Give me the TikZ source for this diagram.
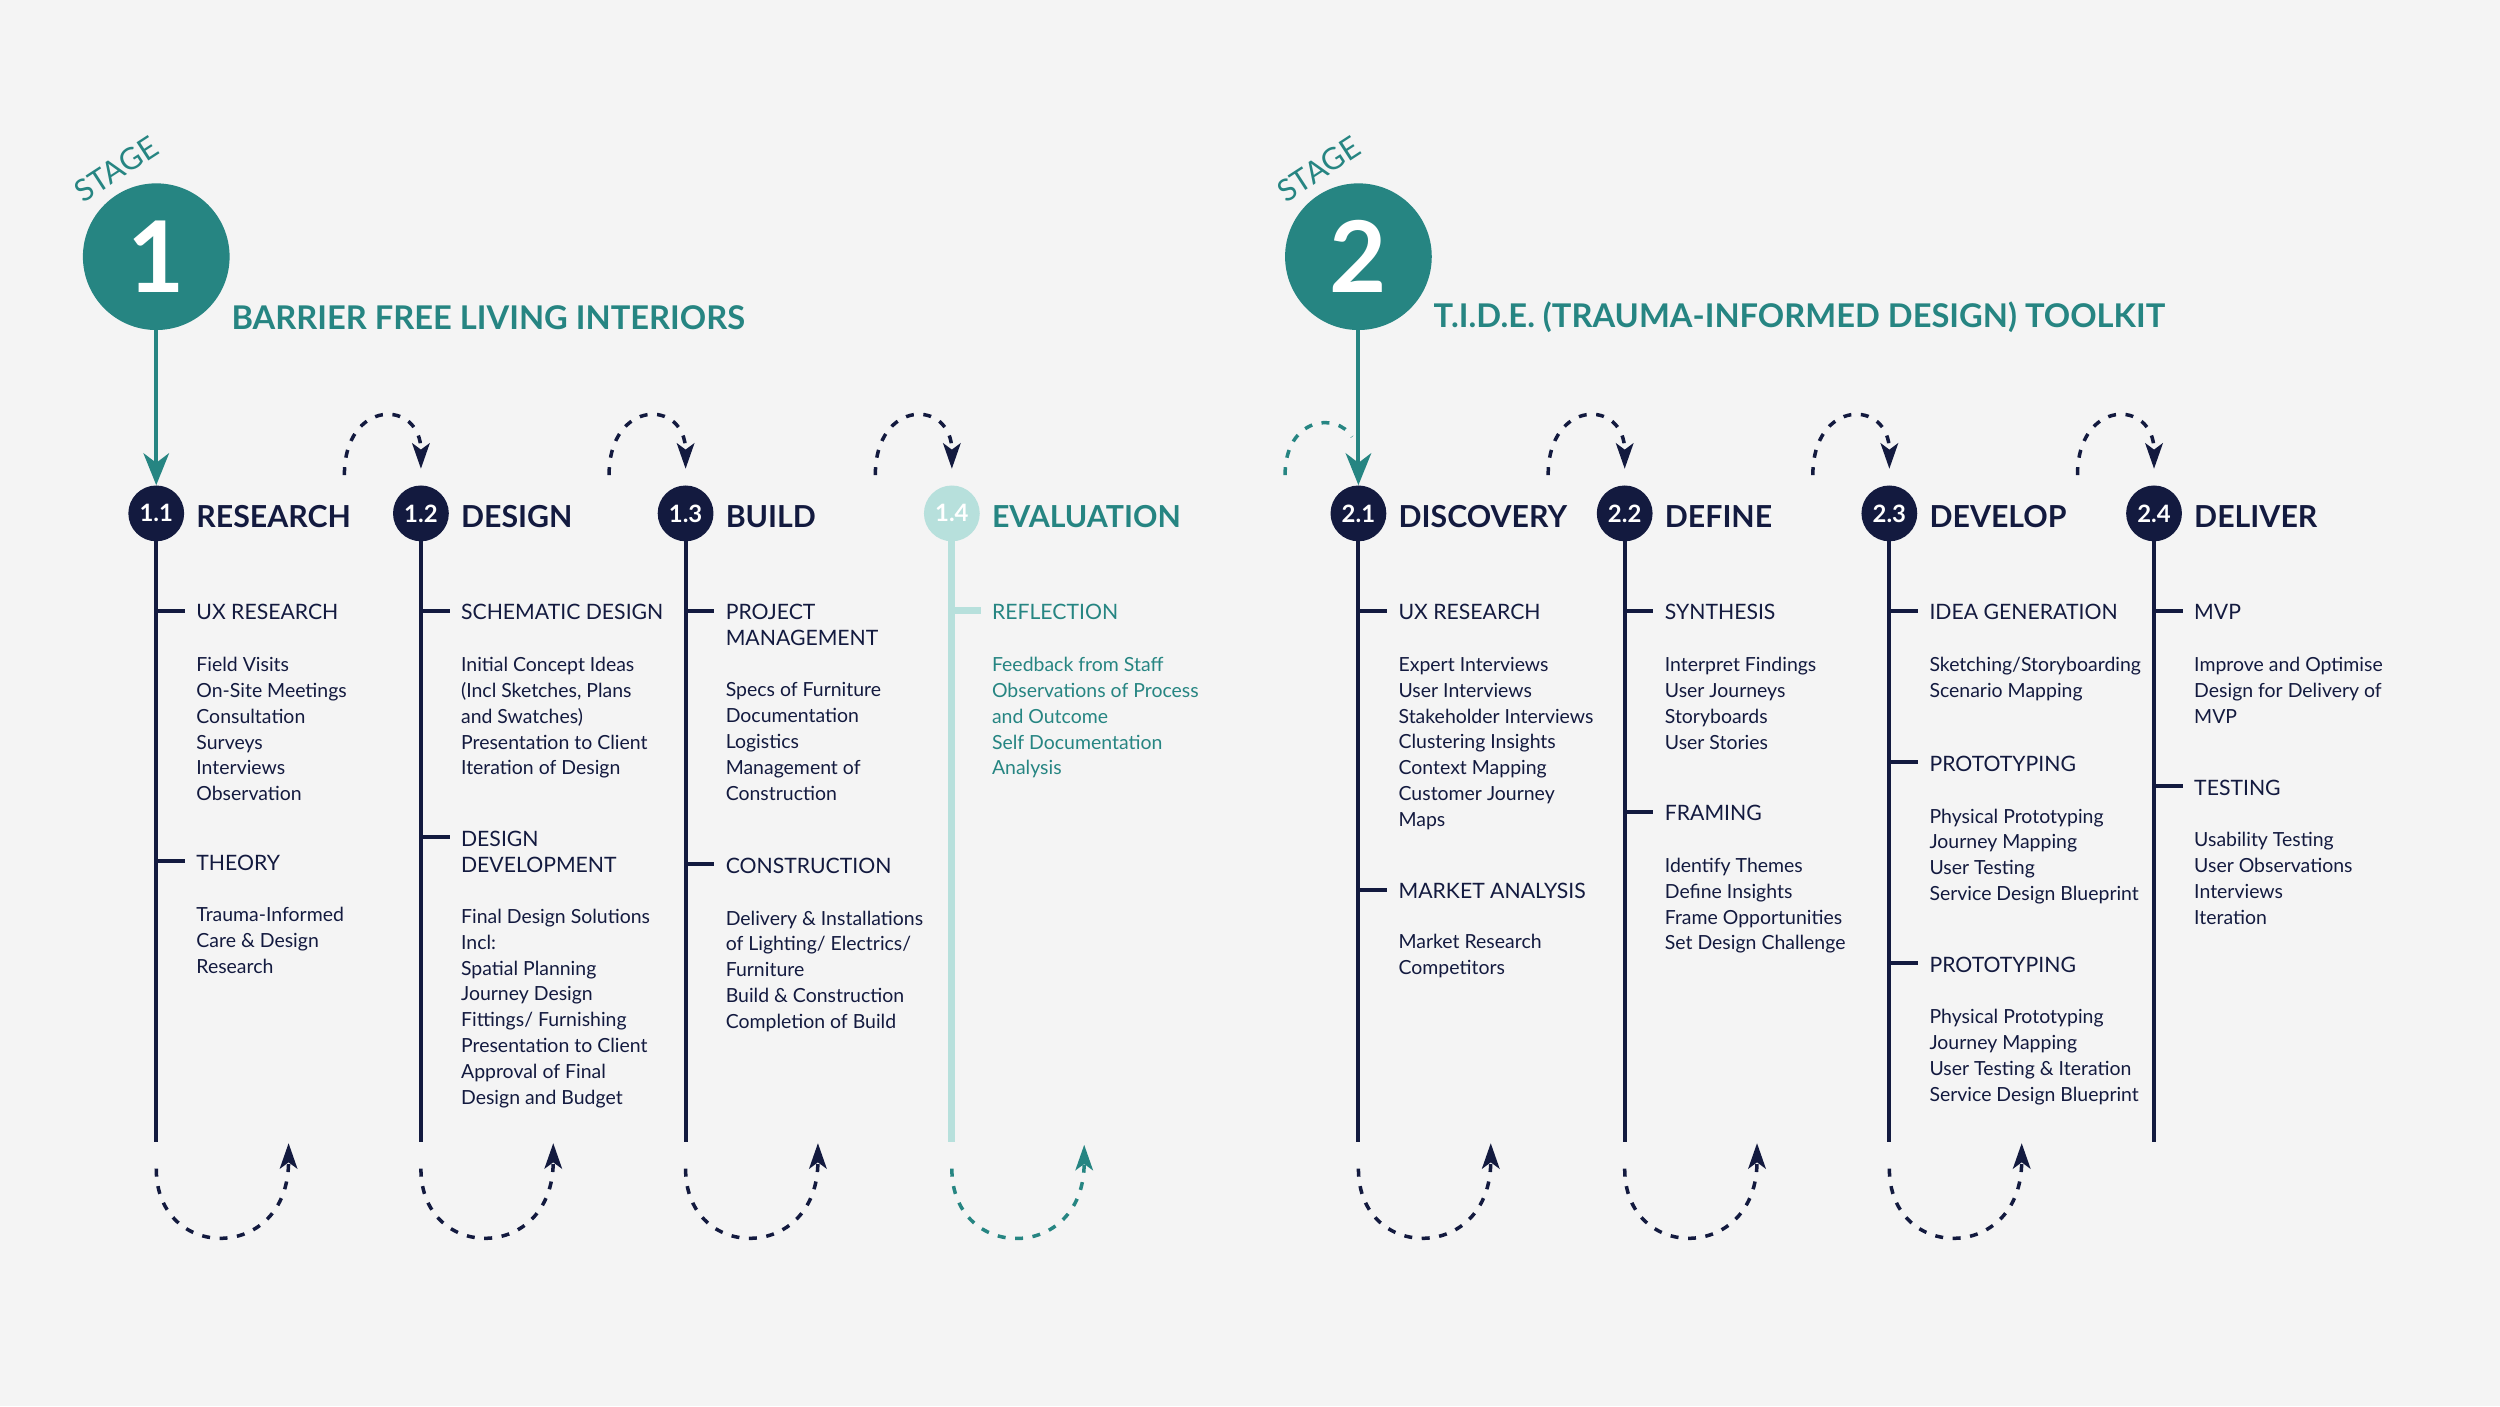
\documentclass[tikz,border=0pt]{standalone}
\usepackage{fontspec}
\setmainfont{Lato}
\usetikzlibrary{arrows.meta}
\definecolor{navy}{HTML}{131A3F}
\definecolor{teal}{HTML}{268582}
\definecolor{lteal}{HTML}{B7E0DC}
\definecolor{bg}{HTML}{F4F4F4}
\tikzset{
  body/.style={anchor=north west,inner sep=0pt,align=left,font=\fontsize{12.2}{16.2}\selectfont,text=navy},
  sub/.style={anchor=north west,inner sep=0pt,align=left,font=\fontsize{13.3}{16.2}\selectfont,text=navy},
  num/.style={circle,fill=navy,minimum size=35pt,inner sep=0pt,text=white,font=\bfseries\fontsize{15}{15}\selectfont},
  head/.style={anchor=west,inner sep=0pt,font=\bfseries\fontsize{19}{19}\selectfont,text=navy},
  vline/.style={line width=2.5pt,draw=navy},
  loop/.style={dashed,dash pattern=on 5pt off 6pt,line width=2.2pt,draw=navy,-{Stealth[length=16pt,width=11pt,inset=4pt]}},
}
\newcommand{\myline}[3][navy]{\draw[line width=2.5pt,draw=#1] (#2,#3) -- ++(18,0);}
\newcommand{\myhd}[4][navy]{\node[sub,text=#1] at (#2+25,#3-4) {#4};}
\newcommand{\mybd}[4][navy]{\node[body,text=#1] at (#2+25,#3-4) {#4};}
\begin{document}
\begin{tikzpicture}[x=1pt,y=-1pt]
\fill[bg] (0,0) rectangle (1568,882);
\useasboundingbox (0,0) rectangle (1568,882);
% Stage headers
\foreach \sx/\n/\t [count=\i] in {98/1/BARRIER FREE LIVING INTERIORS,852/2/T.I.D.E. (TRAUMA-INFORMED DESIGN) TOOLKIT}{
  \node[circle,fill=teal,minimum size=92pt,inner sep=0pt,text=white,font=\bfseries\fontsize{62}{62}\selectfont] (S\i) at (\sx,161) {\n};
  \node[rotate=33,text=teal,font=\fontsize{19}{19}\selectfont,inner sep=0pt] (ST\i) at (\sx-25,106) {STAGE};
  \node[anchor=west,inner sep=0pt,text=teal,font=\bfseries\fontsize{20.5}{20.5}\selectfont] (T\i) at (\sx+47,199) {\t};
}
% Step nodes
\foreach \x/\k/\lab/\nm in {98/1.1/RESEARCH/a,264/1.2/DESIGN/b,430/1.3/BUILD/c,852/2.1/DISCOVERY/e,1019/2.2/DEFINE/f,1185/2.3/DEVELOP/g,1351/2.4/DELIVER/h}{
  \coordinate (\nm end) at (\x,716);
  \draw[vline] (\x,330) -- (\nm end);
  \node[num] (\nm) at (\x,322) {\k};
  \node[head] (\nm h) at (\x+25,324) {\lab};
}
\coordinate (dend) at (597,716);
\draw[line width=4.5pt,draw=lteal] (597,330) -- (dend);
\node[num,fill=lteal] (d) at (597,322) {1.4};
\node[head,text=teal] (dh) at (622,324) {EVALUATION};
% stage arrows
\draw[line width=2.5pt,teal,-{Stealth[length=20pt,width=16pt,inset=6pt]}] (S1.south) -- (a.north);
\draw[line width=2.5pt,teal,-{Stealth[length=20pt,width=16pt,inset=6pt]}] (S2.south) -- (e.north);
% top loops
\foreach \nm/\x in {b/264,c/430,d/597,f/1019,g/1185,h/1351}{
  \coordinate (t\nm) at (\x-48,298);
  \draw[loop] (t\nm) .. controls (\x-48,250) and (\x,250) .. (\x,294);
}
\coordinate (te) at (806,298);
\draw[loop,draw=teal,-] (te) .. controls (806,262) and (838,258) .. (848,274);
% bottom loops
\foreach \nm/\x in {a/98,b/264,c/430,e/852,f/1019,g/1185}{
  \coordinate (u\nm) at (\x,733);
  \draw[loop] (u\nm) .. controls (\x,792) and (\x+83,792) .. (\x+83,717);
}
\coordinate (ud) at (597,733);
\draw[loop,draw=teal] (ud) .. controls (597,792) and (680,792) .. (680,718);
% col1
\myline{98}{383}\myhd{98}{383}{UX RESEARCH}
\mybd{98}{416}{Field Visits\\On-Site Meetings\\Consultation\\Surveys\\Interviews\\Observation}
\myline{98}{540}\myhd{98}{540}{THEORY}
\mybd{98}{573}{Trauma-Informed\\Care \& Design\\Research}
% col2
\myline{264}{383}\myhd{264}{383}{SCHEMATIC DESIGN}
\mybd{264}{416}{Initial Concept Ideas\\(Incl Sketches, Plans\\and Swatches)\\Presentation to Client\\Iteration of Design}
\myline{264}{525}\myhd{264}{525}{DESIGN\\DEVELOPMENT}
\mybd{264}{574}{Final Design Solutions\\Incl:\\Spatial Planning\\Journey Design\\Fittings/ Furnishing\\Presentation to Client\\Approval of Final\\Design and Budget}
% col3
\myline{430}{383}\myhd{430}{383}{PROJECT\\MANAGEMENT}
\mybd{430}{432}{Specs of Furniture\\Documentation\\Logistics\\Management of\\Construction}
\myline{430}{542}\myhd{430}{542}{CONSTRUCTION}
\mybd{430}{575}{Delivery \& Installations\\of Lighting/ Electrics/\\Furniture\\Build \& Construction\\Completion of Build}
% col4
\draw[line width=4.5pt,draw=lteal] (597,383) -- ++(18,0);
\myhd[teal]{597}{383}{REFLECTION}
\mybd[teal]{597}{416}{Feedback from Staff\\Observations of Process\\and Outcome\\Self Documentation\\Analysis}
% col5
\myline{852}{383}\myhd{852}{383}{UX RESEARCH}
\mybd{852}{416}{Expert Interviews\\User Interviews\\Stakeholder Interviews\\Clustering Insights\\Context Mapping\\Customer Journey\\Maps}
\myline{852}{558}\myhd{852}{558}{MARKET ANALYSIS}
\mybd{852}{590}{Market Research\\Competitors}
% col6
\myline{1019}{383}\myhd{1019}{383}{SYNTHESIS}
\mybd{1019}{416}{Interpret Findings\\User Journeys\\Storyboards\\User Stories}
\myline{1019}{509}\myhd{1019}{509}{FRAMING}
\mybd{1019}{542}{Identify Themes\\Define Insights\\Frame Opportunities\\Set Design Challenge}
% col7
\myline{1185}{383}\myhd{1185}{383}{IDEA GENERATION}
\mybd{1185}{416}{Sketching/Storyboarding\\Scenario Mapping}
\myline{1185}{478}\myhd{1185}{478}{PROTOTYPING}
\mybd{1185}{511}{Physical Prototyping\\Journey Mapping\\User Testing\\Service Design Blueprint}
\myline{1185}{604}\myhd{1185}{604}{PROTOTYPING}
\mybd{1185}{637}{Physical Prototyping\\Journey Mapping\\User Testing \& Iteration\\Service Design Blueprint}
% col8
\myline{1351}{383}\myhd{1351}{383}{MVP}
\mybd{1351}{416}{Improve and Optimise\\Design for Delivery of\\MVP}
\myline{1351}{493}\myhd{1351}{493}{TESTING}
\mybd{1351}{526}{Usability Testing\\User Observations\\Interviews\\Iteration}
\end{tikzpicture}
\end{document}
